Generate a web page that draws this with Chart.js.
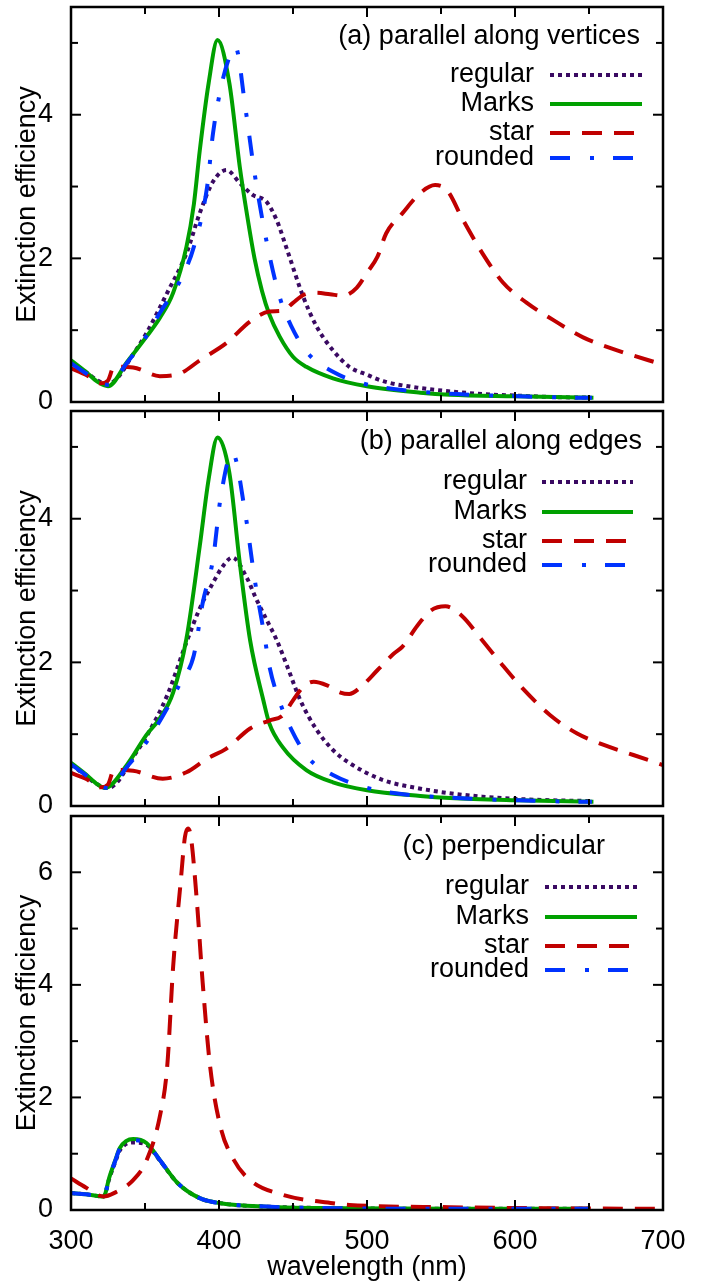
<!DOCTYPE html>
<html>
<head>
<meta charset="utf-8">
<title>Extinction efficiency</title>
<script src="https://cdn.jsdelivr.net/npm/chart.js@4.4.0/dist/chart.umd.min.js"></script>
<style>
    html, body { margin: 0; padding: 0; background: #fff; }
    #wrap { position: relative; width: 705px; height: 1286px; }
    #wrap canvas { position: absolute; left: 0; }
</style>
</head>
<body>
<div id="wrap">
    <canvas id="panelA" width="705" height="416" style="top:0px"></canvas>
    <canvas id="panelB" width="705" height="414" style="top:406px"></canvas>
    <canvas id="panelC" width="705" height="476" style="top:810px"></canvas>
</div>
<script>
// ============================
// Series, ticks and titles
// ============================
const seriesNames = ['regular', 'Marks', 'star', 'rounded'];
const panelTitles = ['(a) parallel along vertices', '(b) parallel along edges', '(c) perpendicular'];
const xTickValues = [300, 350, 400, 450, 500, 550, 600, 650, 700];
const xTickLabels = ['300', '', '400', '', '500', '', '600', '', '700'];
const yMaxima = [5.5, 5.5, 7];

// ============================
// (a) parallel along vertices
// ============================
const wlA_regular = [300, 310, 318, 325, 332, 340, 351, 365, 378, 387, 396, 405, 414, 423, 432, 439, 446, 457, 466, 477, 488, 500, 511, 534, 555, 578, 600, 624, 651];
const valA_regular = [0.55, 0.42, 0.30, 0.25, 0.35, 0.60, 0.96, 1.52, 2.07, 2.63, 3.07, 3.23, 3.05, 2.88, 2.79, 2.53, 2.12, 1.46, 1.05, 0.72, 0.49, 0.38, 0.29, 0.20, 0.15, 0.11, 0.09, 0.07, 0.06];

const wlA_marks = [300, 310, 318, 325, 338, 351, 360, 369, 378, 383, 387, 393, 399, 407, 414, 419, 424, 429, 434, 441, 450, 459, 477, 500, 536, 556, 600, 653];
const valA_marks = [0.58, 0.42, 0.28, 0.22, 0.56, 0.91, 1.17, 1.52, 2.16, 2.75, 3.50, 4.44, 5.04, 4.44, 3.28, 2.60, 2.00, 1.55, 1.22, 0.91, 0.63, 0.49, 0.33, 0.22, 0.13, 0.10, 0.08, 0.06];

const wlA_star = [300, 310, 320, 325, 329, 342, 360, 374, 387, 405, 421, 434, 443, 450, 457, 466, 475, 484, 493, 500, 507, 513, 524, 536, 546, 554, 565, 578, 592, 608, 626, 646, 669, 700];
const valA_star = [0.47, 0.38, 0.26, 0.30, 0.49, 0.48, 0.36, 0.40, 0.58, 0.82, 1.12, 1.26, 1.27, 1.38, 1.49, 1.52, 1.50, 1.48, 1.59, 1.80, 2.02, 2.35, 2.63, 2.91, 3.02, 2.95, 2.53, 2.07, 1.66, 1.38, 1.14, 0.90, 0.72, 0.52];

const wlA_rounded = [300, 310, 318, 325, 338, 351, 360, 374, 383, 392, 396, 402, 407, 411, 418, 424, 432, 441, 449, 460, 477, 497, 518, 561, 603, 646, 652];
const valA_rounded = [0.54, 0.40, 0.29, 0.24, 0.55, 0.92, 1.24, 1.70, 2.16, 3.00, 3.75, 4.44, 4.80, 4.95, 4.07, 3.19, 2.25, 1.46, 1.05, 0.68, 0.42, 0.26, 0.18, 0.11, 0.08, 0.06, 0.06];

// ============================
// (b) parallel along edges
// ============================
const wlB_regular = [300, 310, 318, 325, 332, 340, 351, 365, 378, 387, 396, 403, 409, 419, 425, 432, 439, 446, 455, 466, 477, 488, 511, 534, 555, 578, 600, 624, 651];
const valB_regular = [0.58, 0.42, 0.30, 0.25, 0.35, 0.62, 0.97, 1.54, 2.28, 2.75, 3.11, 3.35, 3.46, 3.17, 2.89, 2.60, 2.31, 1.95, 1.47, 1.06, 0.78, 0.60, 0.36, 0.25, 0.18, 0.13, 0.10, 0.08, 0.07];

const wlB_marks = [300, 310, 318, 323, 338, 351, 360, 369, 378, 387, 393, 399, 407, 414, 421, 430, 434, 443, 459, 477, 500, 536, 556, 600, 653];
const valB_marks = [0.60, 0.44, 0.30, 0.25, 0.58, 0.99, 1.22, 1.58, 2.33, 3.62, 4.55, 5.13, 4.64, 3.39, 2.31, 1.47, 1.15, 0.82, 0.50, 0.33, 0.22, 0.14, 0.11, 0.08, 0.06];

const wlB_star = [300, 310, 320, 325, 329, 342, 362, 378, 392, 405, 421, 434, 443, 450, 457, 464, 473, 482, 488, 497, 507, 518, 524, 534, 543, 553, 564, 577, 590, 605, 624, 642, 660, 680, 700];
const valB_star = [0.46, 0.38, 0.26, 0.30, 0.50, 0.49, 0.38, 0.47, 0.66, 0.80, 1.08, 1.19, 1.26, 1.47, 1.66, 1.73, 1.68, 1.58, 1.56, 1.68, 1.89, 2.12, 2.22, 2.51, 2.72, 2.78, 2.65, 2.33, 2.00, 1.64, 1.26, 1.01, 0.85, 0.71, 0.57];

const wlB_rounded = [300, 310, 318, 325, 338, 351, 365, 374, 383, 389, 396, 401, 409, 418, 424, 431, 434, 441, 449, 460, 477, 497, 518, 561, 603, 646, 652];
const valB_rounded = [0.58, 0.43, 0.30, 0.25, 0.55, 0.89, 1.36, 1.72, 2.10, 2.83, 3.44, 4.28, 4.92, 4.04, 3.17, 2.33, 1.95, 1.45, 1.06, 0.68, 0.43, 0.27, 0.18, 0.11, 0.08, 0.06, 0.06];

// ============================
// (c) perpendicular
// ============================
const wlC = [300, 310, 322, 326, 330, 333, 342, 351, 360, 372, 387, 401, 432, 488, 560, 650];
const valC_regular = [0.30, 0.28, 0.24, 0.57, 0.86, 1.06, 1.20, 1.16, 0.88, 0.48, 0.21, 0.12, 0.06, 0.03, 0.02, 0.02];
const valC_marks = [0.30, 0.28, 0.24, 0.59, 0.89, 1.10, 1.26, 1.19, 0.89, 0.48, 0.21, 0.12, 0.06, 0.03, 0.02, 0.02];
const valC_rounded = [0.30, 0.28, 0.24, 0.58, 0.88, 1.09, 1.24, 1.18, 0.89, 0.48, 0.21, 0.12, 0.06, 0.03, 0.02, 0.02];

const wlC_star = [300, 310, 322, 329, 342, 351, 360, 365, 369, 374, 377, 379, 381, 385, 389, 394, 401, 410, 421, 443, 477, 488, 556, 624, 700];
const valC_star = [0.56, 0.40, 0.24, 0.30, 0.53, 0.88, 1.66, 2.55, 4.32, 5.80, 6.63, 6.78, 6.63, 5.50, 4.03, 2.55, 1.48, 0.89, 0.53, 0.27, 0.12, 0.09, 0.05, 0.03, 0.02];

// ============================
// Line styles (gnuplot look)
// ============================
const seriesStyles = [
    { color: '#3a0a62', dash: [4, 4], order: 4 },          // regular : dotted
    { color: '#00a000', dash: [], order: 3 },              // Marks : solid
    { color: '#c00000', dash: [20, 12], order: 2 },        // star : dashed
    { color: '#0033ff', dash: [20, 20, 4, 19], order: 1 }  // rounded : dash-dot
];

// key position, relative to each panel
const keyLayouts = [
    { titleRight: 640, titleDy: 30, textRight: 534, sampleLeft: 550, sampleRight: 642, rows: [68, 97, 126, 151] },
    { titleRight: 642, titleDy: 31, textRight: 527, sampleLeft: 542, sampleRight: 633, rows: [71, 101, 130, 154] },
    { titleRight: 605, titleDy: 31, textRight: 529, sampleLeft: 545, sampleRight: 637, rows: [71, 101, 130, 154] }
];

const FONT = '"Liberation Sans", Arial, Helvetica, sans-serif';
Chart.defaults.font.family = FONT;
Chart.defaults.font.size = 27;
Chart.defaults.color = '#000';

function toPoints(wl, val) {
    return wl.map((x, i) => ({ x: x, y: val[i] }));
}

// ============================
// Frame, inward ticks and key
// ============================
const cadrePlugin = {
    id: 'cadre',
    afterDatasetsDraw(chart, args, opts) {
        const { ctx, chartArea: a } = chart;
        const xs = chart.scales.x;
        const ys = chart.scales.y;
        const seg = (x1, y1, x2, y2) => {
            ctx.beginPath();
            ctx.moveTo(x1, y1);
            ctx.lineTo(x2, y2);
            ctx.stroke();
        };
        ctx.save();
        ctx.strokeStyle = '#000';
        ctx.setLineDash([]);
        ctx.lineCap = 'butt';
        ctx.lineWidth = 2;
        xTickValues.forEach((v, i) => {
            const px = xs.getPixelForValue(v);
            const len = xTickLabels[i] ? 10 : 7;
            seg(px, a.bottom, px, a.bottom - len);
            seg(px, a.top, px, a.top + len);
        });
        for (let v = 0; v <= opts.ymax; v += 1) {
            const py = ys.getPixelForValue(v);
            const len = v % 2 === 0 ? 10 : 7;
            seg(a.left, py, a.left + len, py);
            seg(a.right, py, a.right - len, py);
        }
        ctx.lineWidth = 2.5;
        ctx.strokeRect(a.left, a.top, a.right - a.left, a.bottom - a.top);

        // key
        const k = opts.key;
        ctx.font = '27px ' + FONT;
        ctx.fillStyle = '#000';
        ctx.textAlign = 'right';
        ctx.textBaseline = 'middle';
        ctx.fillText(opts.title, k.titleRight, a.top + k.titleDy);
        chart.data.datasets.forEach((ds, i) => {
            const ry = a.top + k.rows[i];
            ctx.fillText(ds.label, k.textRight, ry);
            ctx.strokeStyle = ds.borderColor;
            ctx.lineWidth = ds.borderWidth;
            ctx.setLineDash(ds.borderDash);
            seg(k.sampleLeft, ry, k.sampleRight, ry);
        });
        ctx.restore();
    }
};

function creerPanneau(canvasId, index, series, padTop, padBottom, showX) {
    const datasets = series.map((pts, i) => ({
        label: seriesNames[i],
        data: pts,
        borderColor: seriesStyles[i].color,
        borderDash: seriesStyles[i].dash,
        borderWidth: 4,
        borderCapStyle: 'butt',
        pointRadius: 0,
        fill: false,
        cubicInterpolationMode: 'monotone',
        order: seriesStyles[i].order
    }));

    return new Chart(document.getElementById(canvasId), {
        type: 'line',
        data: { datasets: datasets },
        plugins: [cadrePlugin],
        options: {
            responsive: false,
            animation: false,
            devicePixelRatio: 1,
            layout: { padding: { left: 0, right: 42, top: padTop, bottom: padBottom } },
            plugins: {
                legend: { display: false },
                tooltip: { enabled: false },
                cadre: { ymax: yMaxima[index], title: panelTitles[index], key: keyLayouts[index] }
            },
            scales: {
                x: {
                    type: 'linear',
                    min: 300,
                    max: 700,
                    display: showX,
                    grid: { display: false, drawTicks: false, tickLength: 0 },
                    border: { display: false },
                    ticks: {
                        stepSize: 50,
                        autoSkip: false,
                        maxRotation: 0,
                        padding: 15,
                        callback: (v) => (v % 100 === 0 ? String(v) : '')
                    },
                    title: {
                        display: true,
                        text: 'wavelength (nm)',
                        font: { size: 27, lineHeight: 1.2 },
                        padding: { top: 0, bottom: 0 }
                    },
                    afterFit: (scale) => {
                        scale.height = showX ? 74 : 0;
                        scale.paddingLeft = 0;
                        scale.paddingRight = 0;
                    }
                },
                y: {
                    min: 0,
                    max: yMaxima[index],
                    grid: { display: false, drawTicks: false, tickLength: 0 },
                    border: { display: false },
                    ticks: {
                        stepSize: 1,
                        autoSkip: false,
                        padding: 18,
                        callback: (v) => (v % 2 === 0 ? String(v) : '')
                    },
                    title: {
                        display: true,
                        text: 'Extinction efficiency',
                        font: { size: 27, lineHeight: 1.2 },
                        padding: { top: 11, bottom: 0 }
                    },
                    afterFit: (scale) => {
                        scale.width = 71;
                        scale.paddingTop = 0;
                        scale.paddingBottom = 0;
                    }
                }
            }
        }
    });
}

// ============================
// Build the three panels
// ============================
creerPanneau('panelA', 0, [
    toPoints(wlA_regular, valA_regular),
    toPoints(wlA_marks, valA_marks),
    toPoints(wlA_star, valA_star),
    toPoints(wlA_rounded, valA_rounded)
], 7, 14, false);

creerPanneau('panelB', 1, [
    toPoints(wlB_regular, valB_regular),
    toPoints(wlB_marks, valB_marks),
    toPoints(wlB_star, valB_star),
    toPoints(wlB_rounded, valB_rounded)
], 5, 14, false);

creerPanneau('panelC', 2, [
    toPoints(wlC, valC_regular),
    toPoints(wlC, valC_marks),
    toPoints(wlC_star, valC_star),
    toPoints(wlC, valC_rounded)
], 6, 2, true);
</script>
</body>
</html>
